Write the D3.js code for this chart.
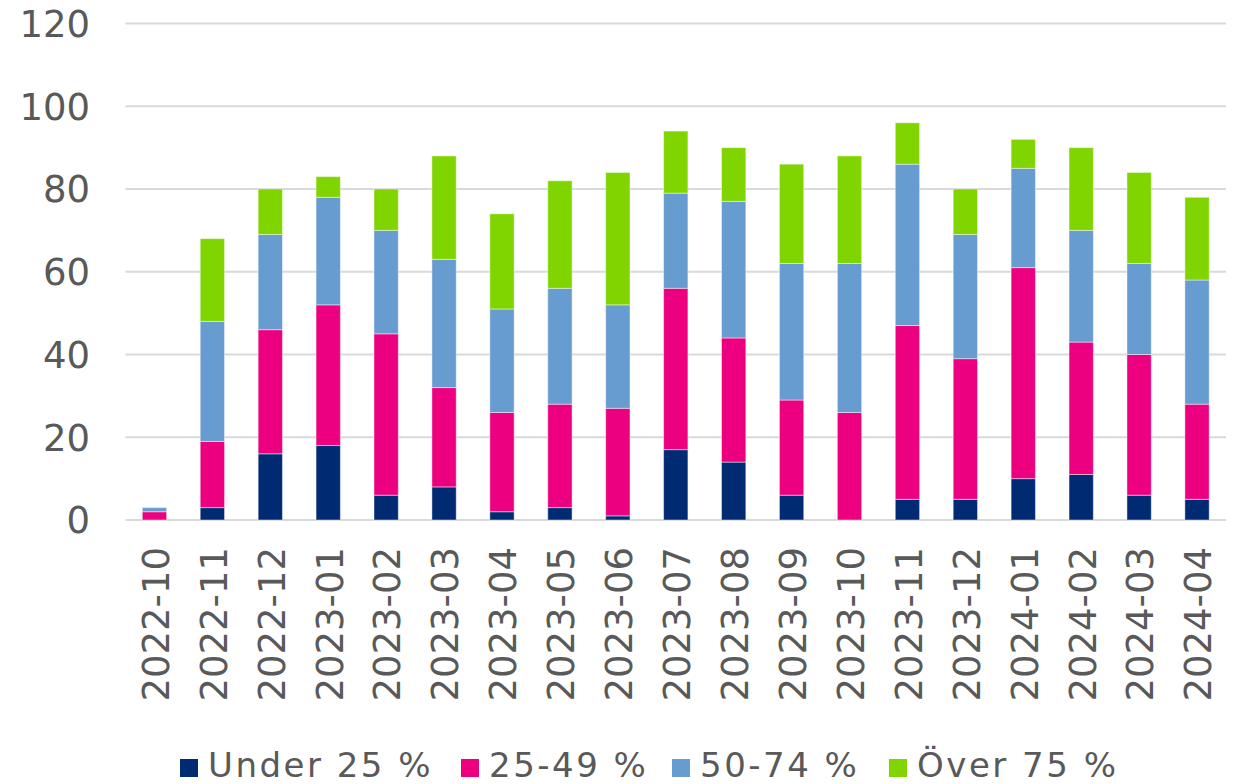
<!DOCTYPE html>
<html>
<head>
<meta charset="utf-8">
<script src="https://cdn.jsdelivr.net/npm/d3@7"></script>
<style>
  body { margin: 0; background: #fff; }
  text { font-family: "DejaVu Sans", Verdana, sans-serif; fill: #595959; }
</style>
</head>
<body>
<div id="chart"></div>
<script>
const months = [
  "2022-10", "2022-11", "2022-12", "2023-01", "2023-02", "2023-03", "2023-04",
  "2023-05", "2023-06", "2023-07", "2023-08", "2023-09", "2023-10", "2023-11",
  "2023-12", "2024-01", "2024-02", "2024-03", "2024-04"
];
const seriesNames = ["Under 25 %", "25-49 %", "50-74 %", "Över 75 %"];
const under25 = [0, 3, 16, 18, 6, 8, 2, 3, 1, 17, 14, 6, 0, 5, 5, 10, 11, 6, 5];
const from25to49 = [2, 16, 30, 34, 39, 24, 24, 25, 26, 39, 30, 23, 26, 42, 34, 51, 32, 34, 23];
const from50to74 = [1, 29, 23, 26, 25, 31, 25, 28, 25, 23, 33, 33, 36, 39, 30, 24, 27, 22, 30];
const over75 = [0, 20, 11, 5, 10, 25, 23, 26, 32, 15, 13, 24, 26, 10, 11, 7, 20, 22, 20];
const yTicks = [0, 20, 40, 60, 80, 100, 120];
const colors = ["#002b73", "#ec0080", "#669ccf", "#80d500"];

const width = 1238, height = 784;

// build rows for the stack
const rows = months.map((m, i) => ({
  month: m,
  [seriesNames[0]]: under25[i],
  [seriesNames[1]]: from25to49[i],
  [seriesNames[2]]: from50to74[i],
  [seriesNames[3]]: over75[i]
}));

const svg = d3.select("#chart")
  .append("svg")
  .attr("width", width)
  .attr("height", height);

const x = d3.scaleBand()
  .domain(months)
  .range([125.5, 1226])
  .paddingInner(0.58)
  .paddingOuter(0.29);

const y = d3.scaleLinear()
  .domain([0, 120])
  .range([520, 23.5]);

const color = d3.scaleOrdinal().domain(seriesNames).range(colors);

// gridlines
svg.append("g")
  .selectAll("line")
  .data(yTicks)
  .join("line")
  .attr("x1", 125.5)
  .attr("x2", 1226)
  .attr("y1", d => y(d))
  .attr("y2", d => y(d))
  .attr("stroke", "#d9d9d9")
  .attr("stroke-width", 2);

// y labels
svg.append("g")
  .selectAll("text")
  .data(yTicks)
  .join("text")
  .attr("x", 90)
  .attr("y", d => y(d))
  .attr("dy", "0.36em")
  .attr("text-anchor", "end")
  .style("font-size", "37px")
  .text(d => d);

// bars
const stacked = d3.stack().keys(seriesNames)(rows);

svg.append("g")
  .selectAll("g")
  .data(stacked)
  .join("g")
  .attr("fill", d => color(d.key))
  .selectAll("rect")
  .data(d => d)
  .join("rect")
  .filter(d => d[1] > d[0])
  .attr("x", d => x(d.data.month))
  .attr("width", x.bandwidth())
  .attr("y", d => y(d[1]))
  .attr("height", d => y(d[0]) - y(d[1]))
  .attr("stroke", "#fff")
  .attr("stroke-opacity", 0.45)
  .attr("stroke-width", 1);

// x labels, rotated
svg.append("g")
  .selectAll("text")
  .data(months)
  .join("text")
  .attr("transform", d => `translate(${x(d) + x.bandwidth() / 2 + 1},547) rotate(-90)`)
  .attr("dy", "0.36em")
  .attr("text-anchor", "end")
  .style("font-size", "37px")
  .text(d => d);

// legend
const legendX = [180, 461, 672, 889];
const legend = svg.append("g")
  .selectAll("g")
  .data(seriesNames)
  .join("g")
  .attr("transform", (d, i) => `translate(${legendX[i]},759)`);

legend.append("rect")
  .attr("width", 18)
  .attr("height", 18)
  .attr("fill", d => color(d));

legend.append("text")
  .attr("x", 28)
  .attr("y", 18)
  .style("font-size", "34px")
  .style("letter-spacing", "2.5px")
  .text(d => d);
</script>
</body>
</html>
